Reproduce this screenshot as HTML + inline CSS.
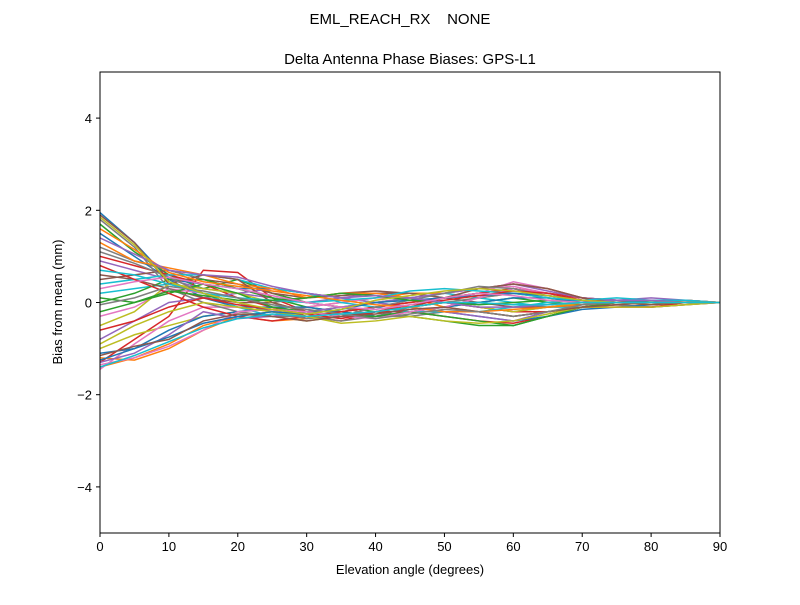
<!DOCTYPE html>
<html><head><meta charset="utf-8">
<style>
body{margin:0;background:#fff;}
svg{font-family:"Liberation Sans","DejaVu Sans",sans-serif;}
</style></head>
<body>
<svg id="chart" width="800" height="600" xmlns="http://www.w3.org/2000/svg">
<rect width="800" height="600" fill="#fff"/>
<text x="400" y="24" font-size="15" text-anchor="middle">EML_REACH_RX&#160;&#160;&#160;&#160;NONE</text>
<text x="410" y="64" font-size="15" text-anchor="middle">Delta Antenna Phase Biases: GPS-L1</text>
<g id="plot"></g>
<g id="axes"></g>
<text x="410" y="574" font-size="13" text-anchor="middle">Elevation angle (degrees)</text>
<text x="62" y="302" font-size="13" text-anchor="middle" transform="rotate(-90 62 302)">Bias from mean (mm)</text>
</svg>
<script>
const elevations=[0,5,10,15,20,25,30,35,40,45,50,55,60,65,70,75,80,85,90];
const xTicks=[0,10,20,30,40,50,60,70,80,90];
const yTicks=[-4,-2,0,2,4];
const yTickLabels=["\u22124","\u22122","0","2","4"];
const s1=[1.95,1.3,0.5,0.1,-0.1,-0.1,-0.2,-0.2,-0.1,0,0.1,0.2,0.3,0.2,0.1,0.05,0,0.05,0];
const s2=[-1.4,-1.2,-0.9,-0.5,-0.3,-0.2,-0.1,0,0.1,0.2,0.2,0.3,0.4,0.3,0.1,0,-0.05,0,0];
const s3=[1.7,1.1,0.6,0.3,0.5,0.2,0,-0.1,-0.2,-0.3,-0.4,-0.5,-0.5,-0.3,-0.1,0,0.05,0.05,0];
const s4=[-1.3,-0.8,-0.3,0.7,0.65,0.1,-0.2,-0.3,-0.2,-0.2,-0.3,-0.4,-0.45,-0.3,-0.1,-0.05,-0.1,-0.05,0];
const s5=[0.9,0.7,0.5,0.3,0.2,0.1,0,0.1,0.2,0.1,0,-0.1,-0.2,-0.1,0,0.05,0.1,0.05,0];
const s6=[0.5,0.6,0.7,0.5,0.4,0.2,0.1,0.2,0.25,0.2,0.1,0.2,0.3,0.2,0.1,0,0,0,0];
const s7=[-0.3,-0.1,0.3,0.2,0,-0.2,-0.3,-0.2,-0.1,0,0.1,0.2,0.45,0.3,0.1,0.05,0,0.05,0];
const s8=[1.2,0.9,0.7,0.5,0.3,0.1,0,-0.1,-0.3,-0.3,-0.2,-0.2,-0.3,-0.2,-0.1,-0.05,-0.1,-0.05,0];
const s9=[-1.0,-0.7,-0.5,-0.3,-0.2,-0.3,-0.4,-0.3,-0.2,-0.1,0,0.1,0.2,0.1,0,0.05,0.05,0.05,0];
const s10=[0.2,0.3,0.4,0.2,-0.1,-0.3,-0.2,-0.1,0,0.1,0.2,0.1,0,-0.1,-0.1,0,0.05,0,0];
const s11=[1.5,1.0,0.5,0.4,0.3,0.3,0.2,0.1,0,-0.1,-0.2,-0.3,-0.4,-0.3,-0.15,-0.1,-0.05,0,0];
const s12=[-1.2,-1.25,-1.0,-0.6,-0.3,-0.4,-0.35,-0.2,-0.1,0,0.1,0.2,0.3,0.2,0.1,0,0,0.05,0];
const s13=[0.0,0.2,0.5,0.5,0.3,0.1,-0.1,-0.2,-0.3,-0.2,-0.1,0,0.1,0,-0.05,0,0,0,0];
const s14=[1.0,0.8,0.6,0.4,0.1,-0.1,-0.3,-0.4,-0.2,-0.1,0,-0.1,-0.2,-0.2,-0.1,-0.1,-0.1,0,0];
const s15=[-0.8,-0.4,0,0.1,0.2,0.3,0.2,0.1,0,-0.1,-0.2,-0.3,-0.4,-0.2,-0.1,0,0,0,0];
const s16=[0.6,0.5,0.3,0.1,0,0,0.1,0.15,0.2,0.2,0.1,0,-0.1,-0.1,-0.05,0,0,0,0];
const s17=[-1.45,-0.9,-0.4,-0.1,-0.1,-0.2,-0.1,0,0.1,0.1,0.2,0.3,0.35,0.2,0.1,0.05,0,0,0];
const s18=[1.8,1.2,0.3,0,-0.2,-0.3,-0.3,-0.4,-0.3,-0.1,0,0.1,0.2,0.1,0,0,0,0,0];
const s19=[-0.5,-0.2,0.4,0.3,0.2,0,-0.2,-0.1,0,0.1,0,-0.1,-0.2,-0.1,0,0,0,0,0];
const s20=[0.4,0.5,0.6,0.6,0.5,0.3,0.2,0,-0.1,-0.2,-0.2,-0.2,-0.1,0,0.05,0,0,0,0];
const s21=[-1.1,-1.0,-0.6,-0.3,-0.2,-0.1,-0.1,-0.2,-0.3,-0.2,-0.1,0,0.1,0.1,0,0,0,0,0];
const s22=[1.3,0.9,0.75,0.6,0.4,0.3,0.1,0.2,0.2,0.1,-0.1,-0.2,-0.3,-0.2,-0.1,0,0,0,0];
const s23=[-0.2,0,0.2,0.4,0.2,-0.1,-0.2,-0.3,-0.3,-0.2,-0.3,-0.4,-0.5,-0.3,-0.1,0,0.05,0,0];
const s24=[0.8,0.5,0.2,-0.1,-0.3,-0.4,-0.3,-0.2,-0.1,0,0.1,0.2,0.3,0.2,0.1,0.05,0,0,0];
const s25=[-1.3,-1.1,-0.7,-0.2,-0.35,-0.3,-0.2,-0.1,0,0.1,0.2,0.3,0.4,0.25,0.1,0.05,0.05,0.05,0];
const s26=[1.9,1.3,0.4,0.6,0.5,0.0,-0.2,-0.3,-0.2,-0.1,0.1,0.3,0.4,0.3,0.1,0,-0.05,0,0];
const s27=[-1.35,-1.2,-0.95,-0.6,-0.2,-0.15,-0.2,-0.3,-0.35,-0.2,-0.1,0.1,0.3,0.2,0.05,0,0,0,0];
const s28=[1.1,0.85,0.55,0.2,0.0,-0.2,-0.35,-0.3,-0.1,0.05,0.2,0.35,0.3,0.15,0.05,0,0,0,0];
const s29=[-0.9,-0.5,-0.2,0.0,-0.1,-0.2,-0.3,-0.45,-0.4,-0.3,-0.4,-0.45,-0.4,-0.25,-0.1,-0.1,-0.1,-0.05,0];
const s30=[0.7,0.6,0.4,0.2,0.1,0.05,0.0,0.05,0.1,0.25,0.3,0.25,0.2,0.1,0.05,0.1,0.05,0.05,0];
const s31=[-1.25,-1.0,-0.75,-0.45,-0.3,-0.2,-0.25,-0.15,0.0,0.05,0.1,0.15,0.2,0.15,0.05,0,0.05,0,0];
const s32=[1.6,1.15,0.65,0.45,0.35,0.25,0.15,0.05,-0.05,-0.1,-0.2,-0.2,-0.15,-0.1,-0.05,0,0,0,0];
const s33=[0.1,0.0,0.25,0.15,0.05,0.05,0.1,0.2,0.15,0.05,0.0,-0.05,0.0,0.05,0.0,0,0,0,0];
const s34=[-0.6,-0.4,-0.1,0.1,-0.05,-0.15,-0.25,-0.35,-0.2,-0.05,0.05,0.15,0.25,0.2,0.05,0,0,0,0];
const s35=[1.4,1.05,0.7,0.6,0.55,0.35,0.2,0.1,0.15,0.1,0.0,-0.1,-0.1,-0.05,0,0.05,0.05,0,0];
const s36=[-1.15,-0.95,-0.8,-0.4,-0.25,-0.3,-0.4,-0.3,-0.25,-0.15,-0.1,-0.2,-0.3,-0.2,-0.1,-0.05,0,0,0];
const s37=[0.3,0.45,0.55,0.4,0.3,0.15,0.0,-0.1,-0.15,-0.05,0.1,0.2,0.15,0.05,0,0,0,0,0];
const s38=[-0.05,0.1,0.35,0.25,0.1,-0.05,-0.15,-0.25,-0.35,-0.25,-0.15,-0.2,-0.3,-0.2,-0.05,0,0,0,0];
const s39=[1.85,1.25,0.45,0.2,0.0,-0.15,-0.25,-0.15,0.05,0.15,0.25,0.3,0.25,0.15,0.05,0,0,0,0];
const s40=[-1.4,-1.15,-0.85,-0.55,-0.35,-0.25,-0.3,-0.25,-0.2,-0.1,0.0,0.0,-0.05,-0.05,0,0,0,0,0];
const seriesList=[s1,s2,s3,s4,s5,s6,s7,s8,s9,s10,s11,s12,s13,s14,s15,s16,s17,s18,s19,s20,s21,s22,s23,s24,s25,s26,s27,s28,s29,s30,s31,s32,s33,s34,s35,s36,s37,s38,s39,s40];
const colors=["#1f77b4","#ff7f0e","#2ca02c","#d62728","#9467bd","#8c564b","#e377c2","#7f7f7f","#bcbd22","#17becf"];

const NS="http://www.w3.org/2000/svg";
const L=100,R=720,T=72,B=533;
const xs=v=>L+(v-0)/(90-0)*(R-L);
const ys=v=>B-(v+5)/10*(B-T);
const plot=document.getElementById('plot');
const axes=document.getElementById('axes');
function mk(tag,attrs,parent){const e=document.createElementNS(NS,tag);for(const k in attrs)e.setAttribute(k,attrs[k]);parent.appendChild(e);return e;}

const clip=mk('clipPath',{id:'clp'},plot);
mk('rect',{x:L,y:T,width:R-L,height:B-T},clip);
seriesList.forEach((s,i)=>{
  const p=mk('polyline',{points:s.map((v,j)=>xs(elevations[j])+','+ys(v)).join(' '),fill:'none',stroke:colors[i%colors.length],'stroke-width':1.5,'clip-path':'url(#clp)'},plot);
  
  
});
const frame=mk('rect',{x:L,y:T,width:R-L,height:B-T,fill:'none',stroke:'#000','stroke-width':1},axes);


xTicks.forEach(t=>{
  const x=xs(t);
  const tk=mk('line',{x1:x,y1:B,x2:x,y2:B+4,stroke:'#000'},axes);
  
  
  const tx=mk('text',{x:x,y:B+18,'font-size':13,'text-anchor':'middle'},axes);
  tx.textContent=t;
  
  
});
yTicks.forEach((t,i)=>{
  const y=ys(t);
  const tk=mk('line',{x1:L-4,y1:y,x2:L,y2:y,stroke:'#000'},axes);
  
  
  const tx=mk('text',{x:L-8,y:y+5,'font-size':13,'text-anchor':'end'},axes);
  tx.textContent=yTickLabels[i];
  
  
});
</script>
</body></html>
